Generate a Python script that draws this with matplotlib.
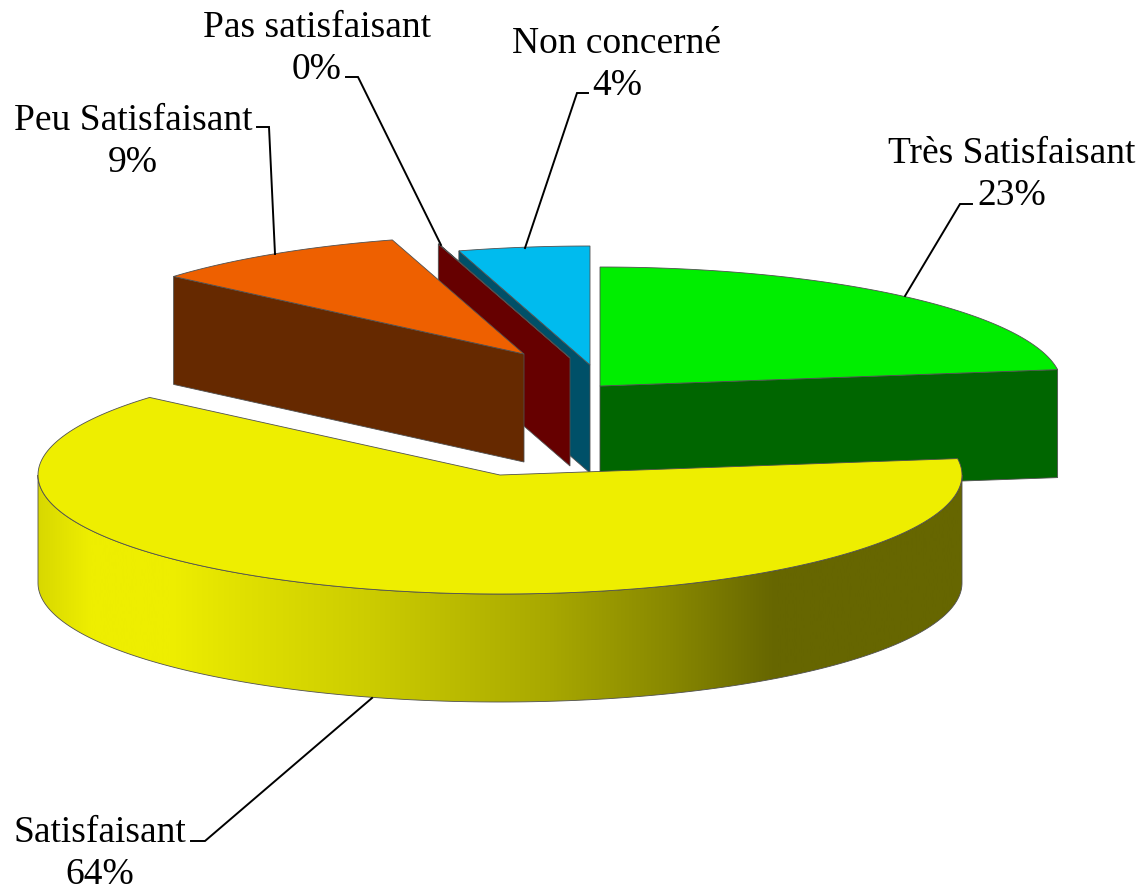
import numpy as np
import matplotlib
matplotlib.use("Agg")
import matplotlib.pyplot as plt
from matplotlib.colors import LinearSegmentedColormap
from matplotlib.patches import Polygon

# --- Data ---
categories = ["Très Satisfaisant", "Satisfaisant", "Peu Satisfaisant", "Pas satisfaisant", "Non concerné"]
# shares as drawn on the picture (the printed labels are rounded by the source)
shares = [22.8, 63.5, 9.1, 0.02, 4.58]
printed_pct = [23, 64, 9, 0, 4]

# --- Style / layout, in pixels of the 1146x891 image ---
top_colors = ["#00EE00", "#EEEE00", "#EE6000", "#660000", "#00BBEE"]
side_colors = ["#006600", "#666600", "#662900", "#660000", "#005068"]
apex = [(600, 386), (500, 475), (524, 354), (570, 358), (590, 365)]
RX, RY, DEPTH = 462, 119, 108
EDGE = "#505050"

label_pos = [(1012, 175), (100, 854), (133, 142), (317, 48.5), (617, 64.5)]
leaders = [
    [(905, 296), (960, 204), (972, 204)],
    [(372, 698), (205, 841), (191, 841)],
    [(275, 254), (269, 127), (257, 127)],
    [(441, 245), (358, 77), (346, 77)],
    [(525, 248), (577, 93), (588, 93)],
]

grad_x = [38, 90, 170, 245, 370, 550, 670, 775, 962]
grad_c = ["#D8D800", "#EEEE00", "#EEEE00", "#E0E000", "#CCCC00", "#A8A800", "#888800", "#666600", "#666600"]


def rim(c, a0, a1, dy=0, n=200):
    t = np.radians(np.linspace(a0, a1, n))
    return np.column_stack([c[0] + RX * np.sin(t), c[1] - RY * np.cos(t) + dy])


def radial_face(c, a):
    p = rim(c, a, a, n=1)[0]
    return [c, p, (p[0], p[1] + DEPTH), (c[0], c[1] + DEPTH)]


fig = plt.figure(figsize=(11.46, 8.91), dpi=100)
ax = fig.add_axes([0, 0, 1, 1])

edges = np.cumsum([0] + shares) / sum(shares) * 360
stops = [(x - grad_x[0]) / (grad_x[-1] - grad_x[0]) for x in grad_x]
cmap = LinearSegmentedColormap.from_list("side", list(zip(stops, grad_c)), N=1024)

# back to front, as in the source
for i in [0, 4, 3, 2, 1]:
    c, a0, a1 = apex[i], edges[i], edges[i + 1]
    if np.sin(np.radians(a0)) < -1e-6:
        ax.add_patch(Polygon(radial_face(c, a0), fc=side_colors[i], ec=EDGE, lw=0.6))
    if np.sin(np.radians(a1)) > 1e-6:
        ax.add_patch(Polygon(radial_face(c, a1), fc=side_colors[i], ec=EDGE, lw=0.6))
    lo, hi = max(a0, 90), min(a1, 270)
    if lo < hi:
        outline = np.vstack([rim(c, lo, hi), rim(c, hi, lo, DEPTH)])
        shape = Polygon(outline, fc="none", ec=EDGE, lw=0.6, zorder=i + 2)
        ax.add_patch(shape)
        im = ax.imshow(np.linspace(0, 1, 1024)[None, :], cmap=cmap, aspect="auto",
                       extent=(grad_x[0], grad_x[-1], 891, 0), zorder=1.5)
        im.set_clip_path(shape)
    ax.add_patch(Polygon(np.vstack([[c], rim(c, a0, a1)]), fc=top_colors[i], ec=EDGE, lw=0.6, zorder=6))

for i, name in enumerate(categories):
    pts = np.array(leaders[i])
    ax.plot(pts[:, 0], pts[:, 1], color="black", lw=1.4, zorder=7, solid_joinstyle="miter")
    ax.text(label_pos[i][0], label_pos[i][1], f"{name}\n{printed_pct[i]}%", ha="center", va="center",
            family="Liberation Serif", fontsize=27, color="black", linespacing=1.29, zorder=8)

ax.set_xlim(0, 1146)
ax.set_ylim(891, 0)
ax.axis("off")
fig.savefig("out.png", dpi=100, facecolor="white")
